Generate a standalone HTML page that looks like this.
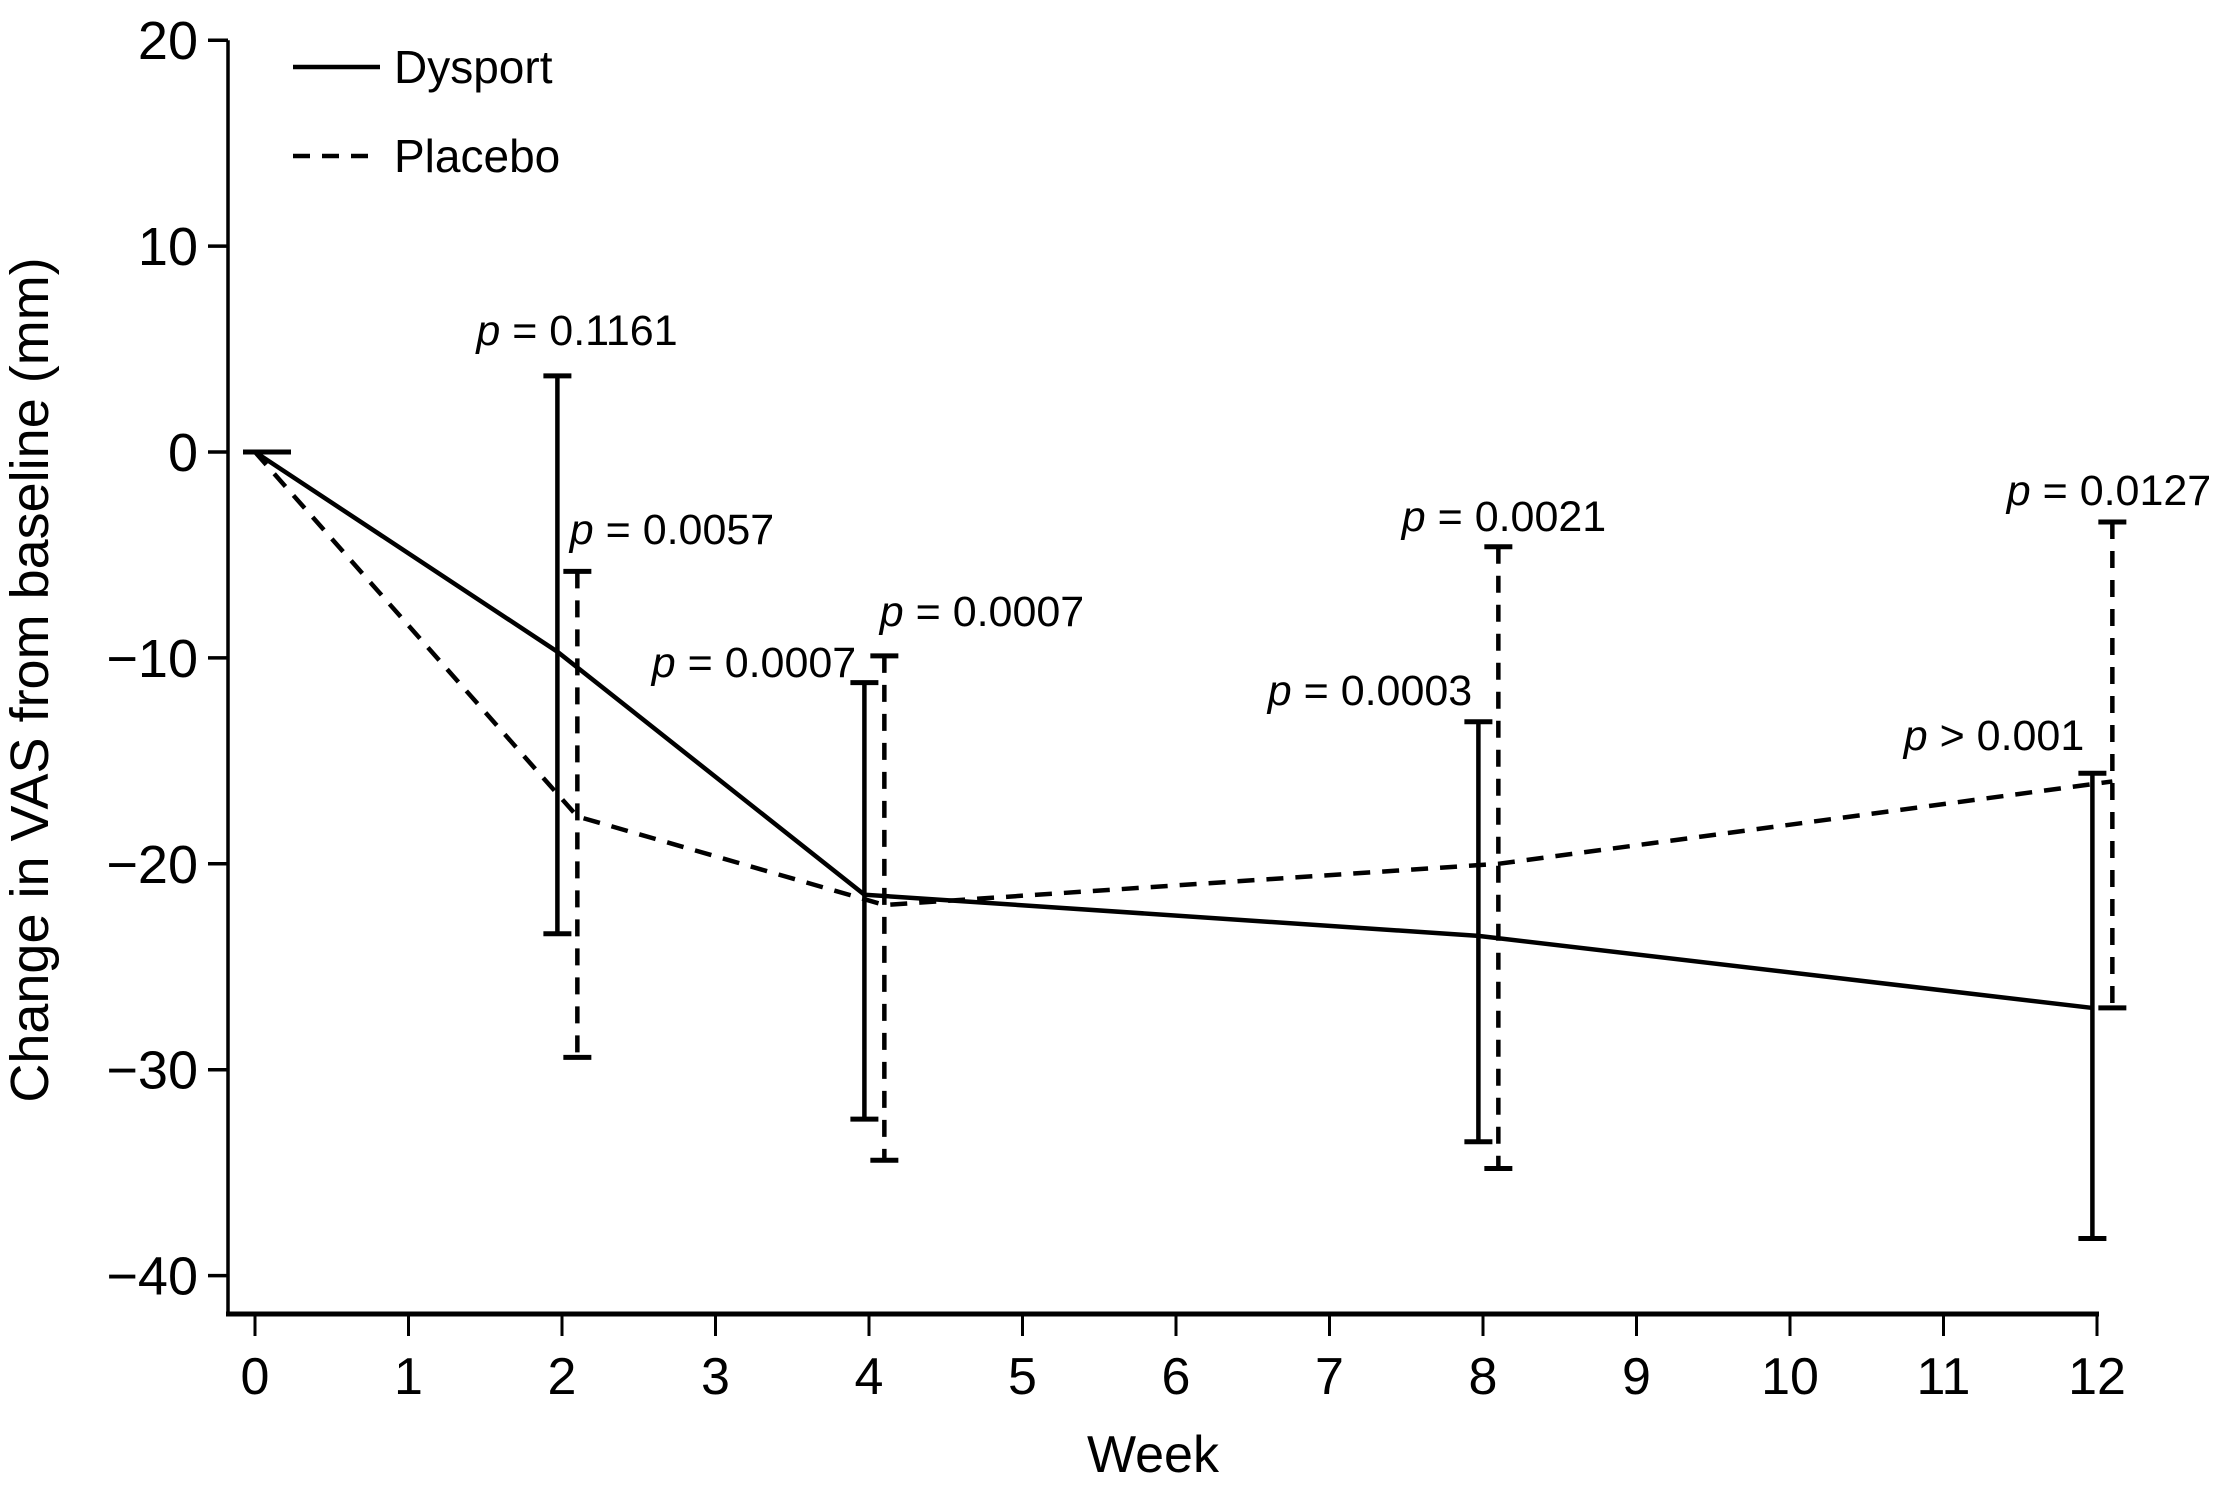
<!DOCTYPE html>
<html><head><meta charset="utf-8"><style>
html,body{margin:0;padding:0;background:#fff;}
svg{display:block;font-family:"Liberation Sans",Arial,sans-serif;}
</style></head><body>
<svg id="chart" width="2222" height="1500" viewBox="0 0 2222 1500" xmlns="http://www.w3.org/2000/svg">
<g id="axes"></g><g id="series"></g><g id="labels"></g>
<g>
<line x1="293" y1="67" x2="380" y2="67" stroke="#000" stroke-width="4.5"/>
<text x="394" y="83" font-size="46">Dysport</text>
<line x1="293" y1="156" x2="380" y2="156" stroke="#000" stroke-width="4.5" stroke-dasharray="17,12"/>
<text x="394" y="172" font-size="46">Placebo</text>
</g>
<text transform="translate(48,680) rotate(-90)" text-anchor="middle" font-size="54">Change in VAS from baseline (mm)</text>
<text x="1153" y="1472" text-anchor="middle" font-size="52">Week</text>
</svg>
<script>
const weeks = [0, 2, 4, 8, 12];
const dysportMean = [0, -9.7, -21.5, -23.5, -27];
const dysportUpper = [0, 3.7, -11.2, -13.1, -15.6];
const dysportLower = [0, -23.4, -32.4, -33.5, -38.2];
const placeboMean = [0, -17.7, -22, -20, -16];
const placeboUpper = [0, -5.8, -9.9, -4.6, -3.4];
const placeboLower = [0, -29.4, -34.4, -34.8, -27];
const yTicks = [20, 10, 0, -10, -20, -30, -40];
const yTickLabels = ["20", "10", "0", "\u221210", "\u221220", "\u221230", "\u221240"];
const xTicks = [0,1,2,3,4,5,6,7,8,9,10,11,12];
const pLabels = ["= 0.1161","= 0.0057","= 0.0007","= 0.0007","= 0.0003","= 0.0021","= 0.0127","> 0.001"];

const NS = "http://www.w3.org/2000/svg";
const X = w => 255 + w * 153.5;
const Y = v => 452 - v * 20.59;
function el(parent, tag, attrs){const e=document.createElementNS(NS,tag);for(const k in attrs)e.setAttribute(k,attrs[k]);parent.appendChild(e);return e;}
const axes = document.getElementById('axes'), series = document.getElementById('series'), labels = document.getElementById('labels');

const yAxis = el(axes,'line',{x1:228,y1:Y(20),x2:228,y2:1314,stroke:'#000','stroke-width':3.5});


const xAxis = el(axes,'line',{x1:226,y1:1314,x2:X(12)+2,y2:1314,stroke:'#000','stroke-width':5});


yTicks.forEach((v,i)=>{
  const t = el(axes,'line',{x1:208,y1:Y(v),x2:228,y2:Y(v),stroke:'#000','stroke-width':3.5});
  
  
  const tx = el(axes,'text',{x:198,y:Y(v)+19,'text-anchor':'end','font-size':54});
  tx.textContent = yTickLabels[i];
  
  
});
xTicks.forEach(w=>{
  const t = el(axes,'line',{x1:X(w),y1:1314,x2:X(w),y2:1336,stroke:'#000','stroke-width':3});
  
  
  const tx = el(axes,'text',{x:X(w),y:1394,'text-anchor':'middle','font-size':52});
  tx.textContent = String(w);
  
  
});

function drawSeries(name, means, ups, lows, off, dash){
  const pts = weeks.map((w,i)=>(X(w + (i===0?0:off)))+','+Y(means[i])).join(' ');
  const line = el(series,'polyline',{points:pts,fill:'none',stroke:'#000','stroke-width':4.5});
  if(dash) line.setAttribute('stroke-dasharray','17,12');
  
  
  weeks.forEach((w,i)=>{
    if(i===0) return;
    const x = X(w+off);
    const g = el(series,'g',{});
    
    
    const v = el(g,'line',{x1:x,y1:Y(ups[i]),x2:x,y2:Y(lows[i]),stroke:'#000','stroke-width':4.5});
    if(dash) v.setAttribute('stroke-dasharray','17,12');
    el(g,'line',{x1:x-14,y1:Y(ups[i]),x2:x+14,y2:Y(ups[i]),stroke:'#000','stroke-width':5});
    el(g,'line',{x1:x-14,y1:Y(lows[i]),x2:x+14,y2:Y(lows[i]),stroke:'#000','stroke-width':5});
  });
}
drawSeries('dysport', dysportMean, dysportUpper, dysportLower, -0.03, false);
drawSeries('placebo', placeboMean, placeboUpper, placeboLower, 0.1, true);
const cap0 = el(series,'line',{x1:X(0)-12,y1:Y(0),x2:X(0)+36,y2:Y(0),stroke:'#000','stroke-width':5});



const pPos = [[577,330],[672,529],[754,662],[982,611],[1370,690],[1504,516],[2109,490],[1994,735]];
pLabels.forEach((s,i)=>{
  const t = el(labels,'text',{x:pPos[i][0],y:pPos[i][1]+15,'text-anchor':'middle','font-size':43});
  const it = el(t,'tspan',{'font-style':'italic'}); it.textContent='p ';
  const rest = el(t,'tspan',{}); rest.textContent=s;
  
  
});
</script>
</body></html>
